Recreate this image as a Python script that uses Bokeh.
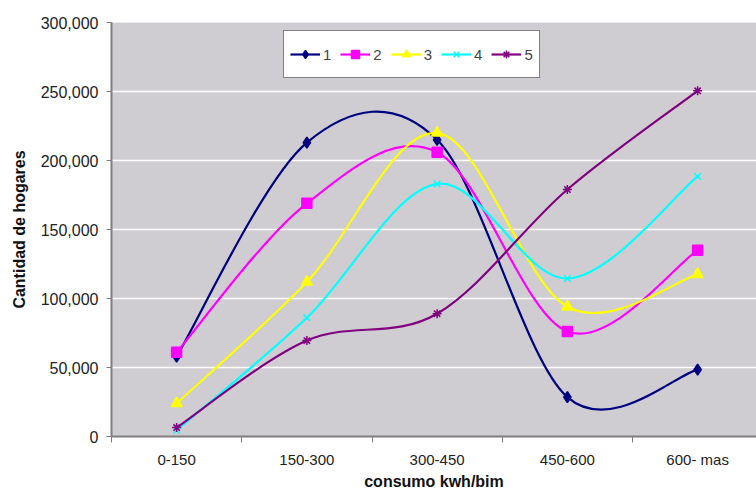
import numpy as np
from bokeh.plotting import figure
from bokeh.models import (Range1d, FixedTicker, NumeralTickFormatter, Legend,
                          LegendItem, ColumnDataSource)
from bokeh.embed import file_html
from bokeh.resources import INLINE

categories = ["0-150", "150-300", "300-450", "450-600", "600- mas"]
series_names = ["1", "2", "3", "4", "5"]
s1 = [58000, 213000, 215000, 28500, 48500]
s2 = [61000, 169000, 206000, 76000, 135000]
s3 = [24000, 112000, 220000, 94000, 117500]
s4 = [4500, 86000, 183000, 114500, 188500]
s5 = [6500, 69500, 89000, 179000, 250500]
y_ticks = [0, 50000, 100000, 150000, 200000, 250000, 300000]

series = [s1, s2, s3, s4, s5]
colors = ["#000080", "#FF00FF", "#FFFF00", "#00FFFF", "#800080"]
markers = ["diamond", "square", "triangle", "x", "asterisk"]
msizes = [11, 10, 11, 9, 9]

FONT = "Liberation Sans"

p = figure(width=756, height=492, output_backend="svg", toolbar_location=None,
           x_range=Range1d(0, 4.952), y_range=Range1d(0, 300000),
           min_border_left=111, min_border_right=0, min_border_top=22,
           min_border_bottom=56)
p.background_fill_color = "#CFCDD2"
p.border_fill_color = "white"
p.outline_line_color = None

# axes
xa = p.xaxis[0]
xa.ticker = FixedTicker(ticks=[i + 0.5 for i in range(len(categories))],
                        minor_ticks=list(range(len(categories) + 1)))
xa.major_label_overrides = {i + 0.5: c for i, c in enumerate(categories)}
xa.major_tick_line_color = None
xa.major_tick_out = 6
xa.major_tick_in = 0
xa.minor_tick_out = 6
xa.minor_tick_in = 0
xa.minor_tick_line_color = "#7F7F7F"
xa.minor_tick_line_width = 1
xa.axis_line_color = "#7F7F7F"
xa.axis_line_width = 2
xa.major_label_standoff = 8
xa.major_label_text_font = FONT
xa.major_label_text_font_size = "15px"
xa.major_label_text_color = "#222222"
xa.axis_label = "consumo kwh/bim"
xa.axis_label_text_font = FONT
xa.axis_label_text_font_style = "bold"
xa.axis_label_text_font_size = "16px"
xa.axis_label_standoff = 2
xa.axis_label_text_color = "#111111"

ya = p.yaxis[0]
ya.ticker = FixedTicker(ticks=y_ticks)
ya.formatter = NumeralTickFormatter(format="0,0")
ya.major_tick_out = 5
ya.major_tick_in = 0
ya.minor_tick_line_color = None
ya.major_tick_line_color = "#7F7F7F"
ya.axis_line_color = "#7F7F7F"
ya.axis_line_width = 2
ya.major_label_standoff = 8
ya.major_label_text_font = FONT
ya.major_label_text_font_size = "16px"
ya.major_label_text_color = "#222222"
ya.axis_label = "Cantidad de hogares"
ya.axis_label_text_font = FONT
ya.axis_label_text_font_style = "bold"
ya.axis_label_text_font_size = "16px"
ya.axis_label_standoff = 10
ya.axis_label_text_color = "#111111"

p.xgrid.grid_line_color = None
p.ygrid.ticker = FixedTicker(ticks=y_ticks)
p.ygrid.grid_line_color = "white"
p.ygrid.grid_line_width = 1.5


def smooth_segments(xs, ys):
    n = len(xs)
    d = dict(x0=[], y0=[], x1=[], y1=[], cx0=[], cy0=[], cx1=[], cy1=[])
    for i in range(n - 1):
        ip = i - 1 if i > 0 else i
        inx = i + 2 if i + 2 < n else i + 1
        d["x0"].append(xs[i]); d["y0"].append(ys[i])
        d["x1"].append(xs[i + 1]); d["y1"].append(ys[i + 1])
        d["cx0"].append(xs[i] + (xs[i + 1] - xs[ip]) / 6.0)
        d["cy0"].append(ys[i] + (ys[i + 1] - ys[ip]) / 6.0)
        d["cx1"].append(xs[i + 1] - (xs[inx] - xs[i]) / 6.0)
        d["cy1"].append(ys[i + 1] - (ys[inx] - ys[i]) / 6.0)
    return d


xpos = [i + 0.5 for i in range(len(categories))]
items = []
for name, vals, col, mk, ms in zip(series_names, series, colors, markers, msizes):
    seg = ColumnDataSource(smooth_segments(xpos, vals))
    br = p.bezier(x0="x0", y0="y0", x1="x1", y1="y1", cx0="cx0", cy0="cy0",
                  cx1="cx1", cy1="cy1", source=seg, line_color=col, line_width=2.2)
    sr = p.scatter(xpos, vals, marker=mk, size=ms, fill_color=col,
                   line_color=col, line_width=1.5)
    items.append(LegendItem(label=name, renderers=[br, sr]))

legend = Legend(items=items, orientation="horizontal", location=(172, 358),
                border_line_color="#000000", border_line_width=1,
                background_fill_color="white", background_fill_alpha=1,
                label_text_font=FONT, label_text_font_size="15px",
                glyph_width=30, glyph_height=20, label_standoff=3, spacing=9,
                padding=6, margin=0, label_height=34, label_width=8)
p.add_layout(legend, "center")

open("out.html", "w").write(file_html(p, INLINE))
